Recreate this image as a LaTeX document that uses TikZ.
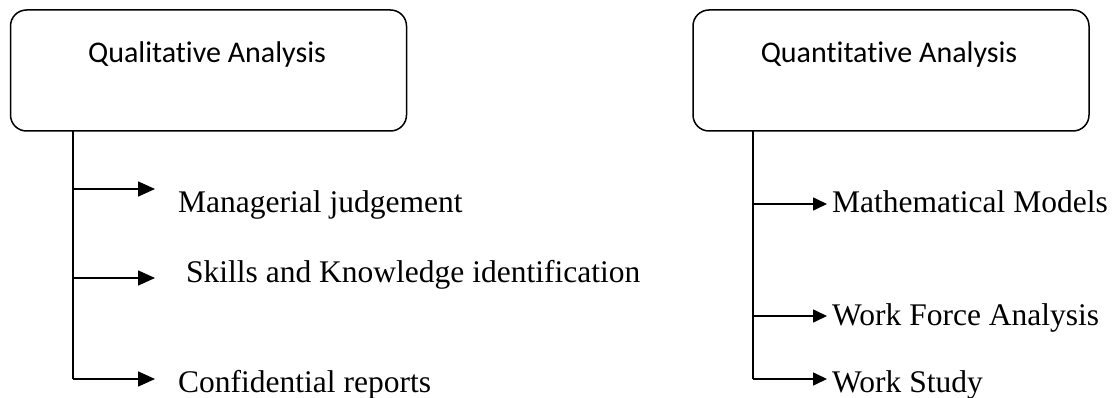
\documentclass[tikz,border=0pt]{standalone}
\usepackage{fontspec}
\setmainfont{Liberation Serif}
\newfontfamily\titlefont[Ligatures=NoCommon]{Carlito}
\usetikzlibrary{arrows.meta}
\tikzset{
  groupbox/.style={draw=black, line width=1.5pt, rounded corners=16pt, minimum width=396pt, minimum height=121pt, inner sep=0pt},
  titletext/.style={inner sep=0pt, anchor=base, font=\titlefont\fontsize{30}{35}\selectfont},
  itemtext/.style={inner sep=0pt, anchor=base west, font=\fontsize{31.5}{37}\selectfont},
  trunk/.style={draw=black, line width=1.6pt},
  arrL/.style={draw=black, line width=1.6pt, -{Triangle[length=17pt,width=15pt]}},
  arrR/.style={draw=black, line width=1.6pt, -{Triangle[length=14pt,width=13pt]}}
}
\begin{document}
\begin{tikzpicture}[x=1pt,y=-1pt]
\useasboundingbox (0,0) rectangle (1115,398);
% boxes
\node[groupbox] (qlbox) at (208.5,70.5) {};
\node[groupbox] (qnbox) at (891,70.5) {};
\node[titletext] (qltitle) at (207,63) {Qualitative Analysis};
\node[titletext] (qntitle) at (889,63) {Quantitative Analysis};
% left trunk and branches
\coordinate (lt0) at (73,131);
\coordinate (lt1) at (73,189);
\coordinate (lt2) at (73,278);
\coordinate (lt3) at (73,379);
\coordinate (le1) at (155,189);
\coordinate (le2) at (155,278);
\coordinate (le3) at (155,379);
\draw[trunk] (lt0) -- (lt3);
\draw[arrL] (lt1) -- (le1);
\draw[arrL] (lt2) -- (le2);
\draw[arrL] (lt3) -- (le3);
\node[itemtext] (l1) at (178,212) {Managerial judgement};
\node[itemtext] (l2) at (186,282) {Skills and Knowledge identification};
\node[itemtext] (l3) at (178,392) {Confidential reports};
% right trunk and branches
\coordinate (rt0) at (753,131);
\coordinate (rt1) at (753,204);
\coordinate (rt2) at (753,316);
\coordinate (rt3) at (753,379);
\coordinate (re1) at (827,204);
\coordinate (re2) at (827,316);
\coordinate (re3) at (827,379);
\draw[trunk] (rt0) -- (rt3);
\draw[arrR] (rt1) -- (re1);
\draw[arrR] (rt2) -- (re2);
\draw[arrR] (rt3) -- (re3);
\node[itemtext] (r1) at (832,212) {Mathematical Models};
\node[itemtext] (r2) at (832,325) {Work Force Analysis};
\node[itemtext] (r3) at (832,392) {Work Study};
\end{tikzpicture}
\end{document}
